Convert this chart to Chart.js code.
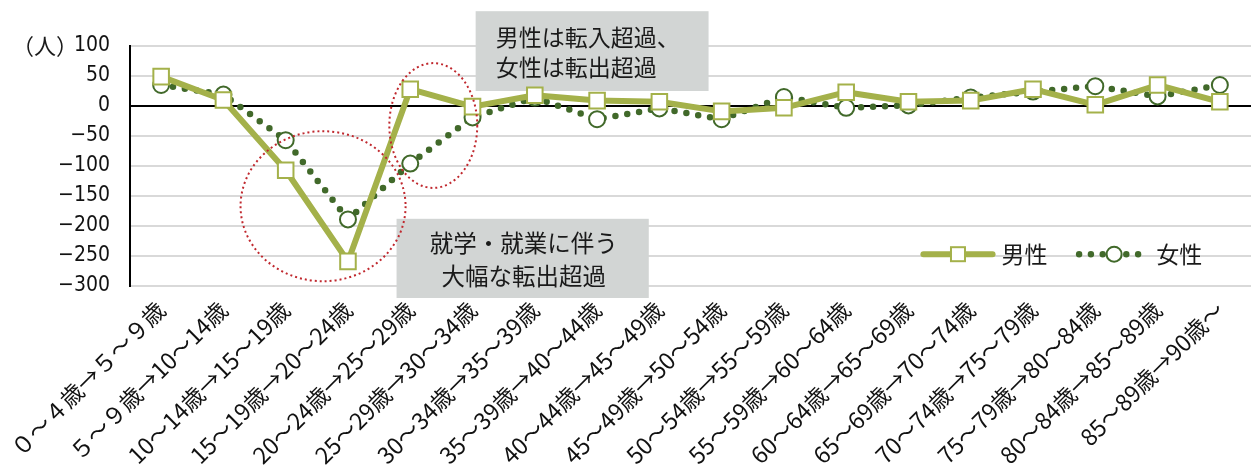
<!DOCTYPE html>
<html>
<head>
<meta charset="utf-8">
<script src="https://cdn.jsdelivr.net/npm/chart.js@4.4.1/dist/chart.umd.min.js"></script>
<style>
  html, body { margin: 0; padding: 0; background: #fff; overflow: hidden; }
  #wrap { width: 1264px; height: 469px; position: relative; }
</style>
</head>
<body>
<div id="wrap"><canvas id="c"></canvas></div>
<script>
const categories = [
  '０～４歳→５～９歳', '５～９歳→10～14歳', '10～14歳→15～19歳', '15～19歳→20～24歳',
  '20～24歳→25～29歳', '25～29歳→30～34歳', '30～34歳→35～39歳', '35～39歳→40～44歳',
  '40～44歳→45～49歳', '45～49歳→50～54歳', '50～54歳→55～59歳', '55～59歳→60～64歳',
  '60～64歳→65～69歳', '65～69歳→70～74歳', '70～74歳→75～79歳', '75～79歳→80～84歳',
  '80～84歳→85～89歳', '85～89歳→90歳～'
];
const maleValues   = [49, 10, -107, -259, 28, -1, 18, 9, 7, -9, -3, 23, 7, 9, 28, 2, 35, 7];
const femaleValues = [35, 19, -57, -189, -96, -19, 14, -22, -4, -22, 15, -3, 1, 14, 24, 33, 16, 35];
const yTicks = [100, 50, 0, -50, -100, -150, -200, -250, -300];
const seriesNames = ['男性', '女性'];
const unitLabel = '（人）';
const note1 = ['男性は転入超過、', '女性は転出超過'];
const note2 = ['就学・就業に伴う', '大幅な転出超過'];

const MALE = '#a4b14a';
const FEMALE = '#41692a';
const JP = '"Noto Sans CJK JP", "Noto Sans", sans-serif';
const NUM = '"Liberation Sans Narrow", "DejaVu Sans Condensed", "Noto Sans", sans-serif';

const overlay = {
  id: 'overlay',
  beforeDatasetsDraw(chart) {
    const ctx = chart.ctx, x = chart.scales.x, y = chart.scales.y;
    ctx.save();
    ctx.fillStyle = '#d2d5d4';
    const b1 = [x.getPixelForValue(5.05), y.getPixelForValue(158), x.getPixelForValue(8.79), y.getPixelForValue(25)];
    const b2 = [x.getPixelForValue(3.78), y.getPixelForValue(-188), x.getPixelForValue(7.83), y.getPixelForValue(-320)];
    ctx.fillRect(b1[0], b1[1], b1[2] - b1[0], b1[3] - b1[1]);
    ctx.fillRect(b2[0], b2[1], b2[2] - b2[0], b2[3] - b2[1]);
    ctx.fillStyle = '#1a1a1a';
    ctx.font = '23px ' + JP;
    ctx.textBaseline = 'middle';
    ctx.textAlign = 'left';
    ctx.fillText(note1[0], b1[0] + 20, b1[1] + 26);
    ctx.fillText(note1[1], b1[0] + 20, b1[1] + 56);
    ctx.textAlign = 'center';
    ctx.font = '23.5px ' + JP;
    const c2 = (b2[0] + b2[2]) / 2 + 1;
    ctx.fillText(note2[0], c2, b2[1] + 24);
    ctx.fillText(note2[1], c2, b2[1] + 57);
    ctx.textAlign = 'left';
    ctx.font = '22px ' + JP;
    ctx.fillText(unitLabel, 12, y.getPixelForValue(100));
    ctx.restore();
  },
  afterDatasetsDraw(chart) {
    const ctx = chart.ctx, x = chart.scales.x, y = chart.scales.y;
    const step = x.getPixelForValue(1) - x.getPixelForValue(0);
    const unit = y.getPixelForValue(0) - y.getPixelForValue(1);
    ctx.save();
    ctx.strokeStyle = '#c0282e';
    ctx.lineWidth = 2;
    ctx.setLineDash([2, 3]);
    ctx.beginPath();
    ctx.ellipse(x.getPixelForValue(2.6), y.getPixelForValue(-167), 1.325 * step, 125 * unit, 0, 0, Math.PI * 2);
    ctx.stroke();
    ctx.beginPath();
    ctx.ellipse(x.getPixelForValue(4.37), y.getPixelForValue(-32.5), 0.706 * step, 104 * unit, 0, 0, Math.PI * 2);
    ctx.stroke();
    ctx.setLineDash([]);
    const ly = y.getPixelForValue(-247);
    const m0 = x.getPixelForValue(12.24), m1 = x.getPixelForValue(13.35);
    ctx.strokeStyle = MALE; ctx.lineWidth = 6; ctx.lineCap = 'round';
    ctx.beginPath(); ctx.moveTo(m0, ly); ctx.lineTo(m1, ly); ctx.stroke();
    const mc = (m0 + m1) / 2;
    ctx.lineCap = 'butt';
    ctx.fillStyle = '#fff'; ctx.lineWidth = 2;
    ctx.fillRect(mc - 7, ly - 7, 14, 14); ctx.strokeRect(mc - 7, ly - 7, 14, 14);
    ctx.fillStyle = '#1a1a1a'; ctx.font = '23px ' + JP; ctx.textBaseline = 'middle'; ctx.textAlign = 'left';
    ctx.fillText(seriesNames[0], m1 + 9, ly);
    const f0 = x.getPixelForValue(14.74), f1 = x.getPixelForValue(15.8);
    ctx.fillStyle = FEMALE;
    for (let px = f0; px <= f1 + 0.5; px += 11.8) {
      ctx.beginPath(); ctx.arc(px, ly, 3.2, 0, Math.PI * 2); ctx.fill();
    }
    const fc = (f0 + f1) / 2 + 2;
    ctx.beginPath(); ctx.arc(fc, ly, 7.5, 0, Math.PI * 2);
    ctx.fillStyle = '#fff'; ctx.fill(); ctx.strokeStyle = FEMALE; ctx.lineWidth = 2; ctx.stroke();
    ctx.fillStyle = '#1a1a1a';
    ctx.fillText(seriesNames[1], f1 + 11, ly);
    ctx.restore();
  }
};

new Chart(document.getElementById('c'), {
  type: 'line',
  data: {
    labels: categories,
    datasets: [
      {
        label: seriesNames[1], data: femaleValues,
        borderColor: FEMALE, borderWidth: 6.5, borderDash: [0, 12], borderCapStyle: 'round',
        pointStyle: 'circle', pointRadius: 8, pointBorderWidth: 2,
        pointBackgroundColor: '#fff', pointBorderColor: FEMALE, tension: 0, order: 2
      },
      {
        label: seriesNames[0], data: maleValues,
        borderColor: MALE, borderWidth: 6, borderJoinStyle: 'round',
        pointStyle: 'rect', pointRadius: 11, pointBorderWidth: 2,
        pointBackgroundColor: '#fff', pointBorderColor: MALE, tension: 0, order: 1
      }
    ]
  },
  options: {
    responsive: true, maintainAspectRatio: false, animation: false,
    layout: { padding: { top: 46, left: 0, right: 0, bottom: 0 } },
    plugins: { legend: { display: false }, tooltip: { enabled: false } },
    scales: {
      x: {
        offset: true,
        grid: { display: false, drawTicks: false },
        border: { display: false },
        ticks: {
          autoSkip: false, minRotation: 45, maxRotation: 45, padding: 10,
          color: '#111', font: { family: JP, size: 23 }
        },
        afterFit(s) { s.height = 183; }
      },
      y: {
        min: -300, max: 100,
        afterBuildTicks(s) { s.ticks = yTicks.map(v => ({ value: v })); },
        grid: {
          drawTicks: false,
          color: c => c.tick && c.tick.value === 0 ? '#000' : '#d9d9d9',
          lineWidth: 2
        },
        border: { display: true, color: '#000', width: 2 },
        ticks: {
          padding: 20, color: '#111', font: { family: NUM, size: 21 },
          callback: v => String(v).replace('-', '−')
        },
        afterFit(s) { s.width = 130; }
      }
    }
  },
  plugins: [overlay]
});
</script>
</body>
</html>
